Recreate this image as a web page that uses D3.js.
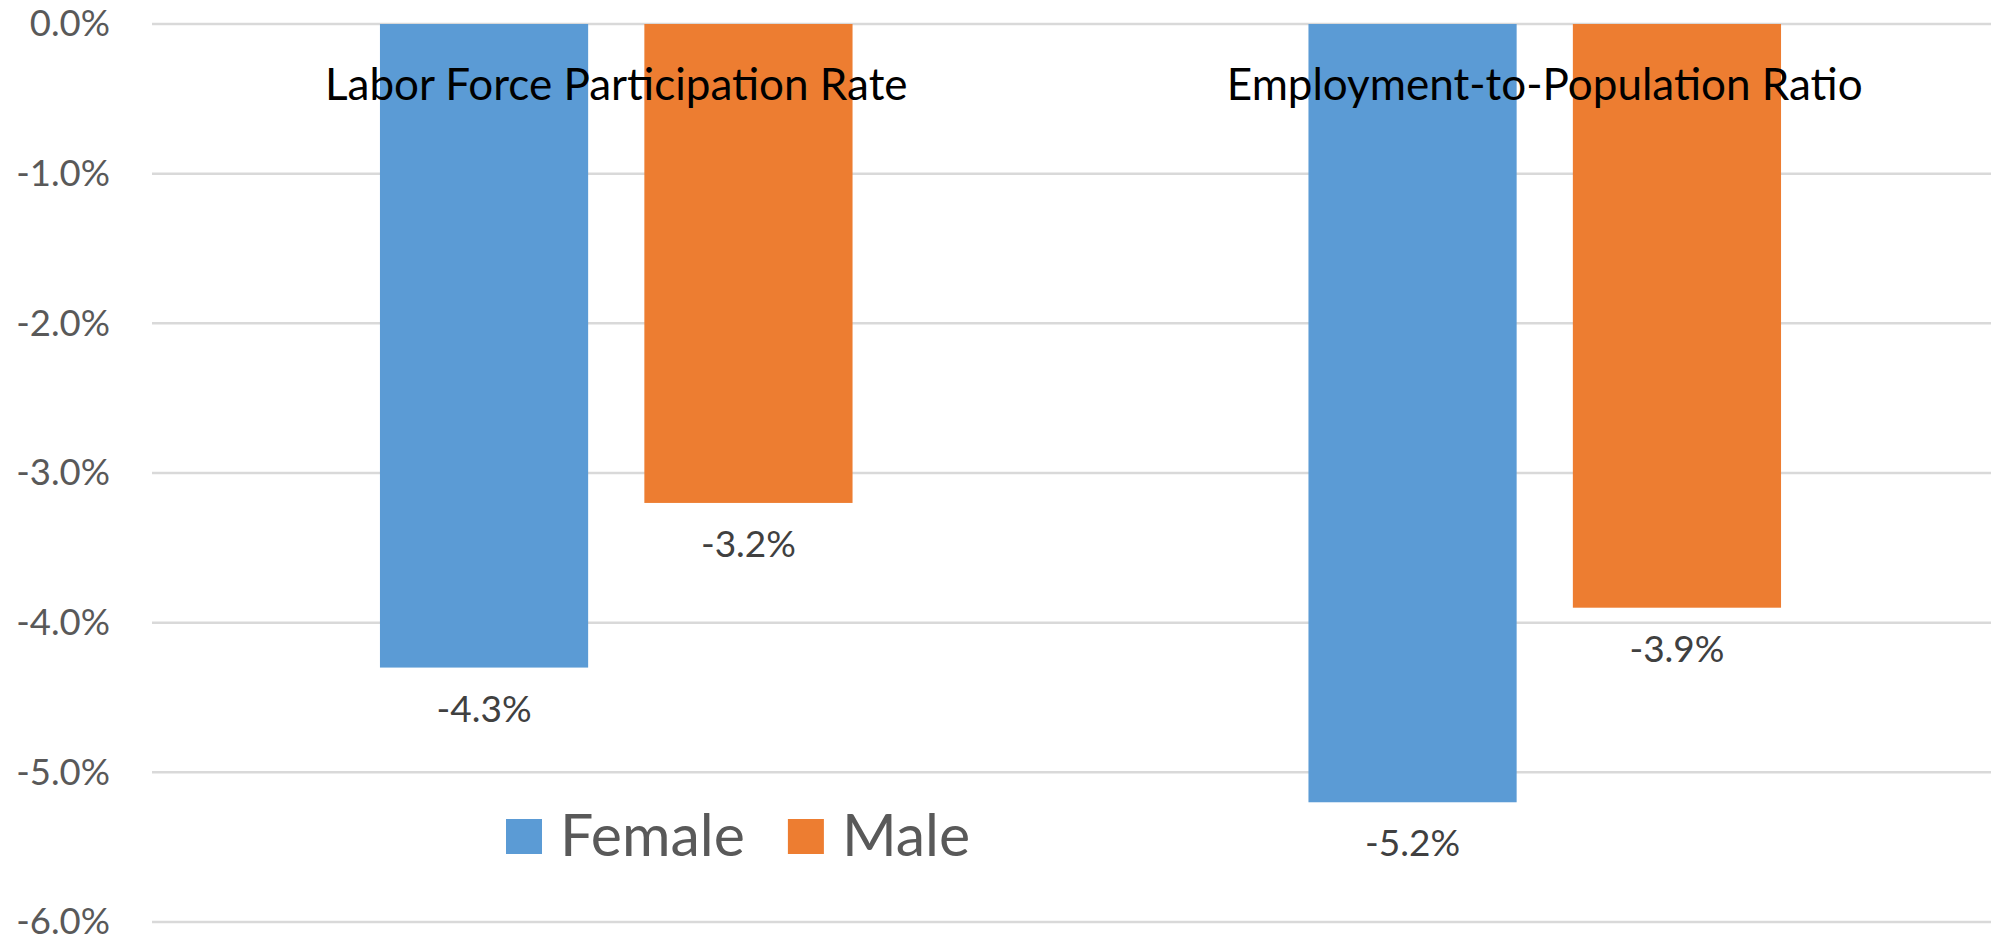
<!DOCTYPE html>
<html>
<head>
<meta charset="utf-8">
<script src="https://cdn.jsdelivr.net/npm/d3@7/dist/d3.min.js"></script>
<style>
  html, body { margin: 0; padding: 0; background: #ffffff; }
  svg { display: block; }
  text { font-family: Lato, "Open Sans", "Noto Sans", sans-serif; }
</style>
</head>
<body>
<svg id="chart" width="1991" height="937"></svg>
<script>
// Change in labor market rates, by sex (percentage points)
const categories = ["Labor Force Participation Rate", "Employment-to-Population Ratio"];
const seriesNames = ["Female", "Male"];
const femaleValues = [-4.3, -5.2];
const maleValues = [-3.2, -3.9];
const yTicks = [0, -1, -2, -3, -4, -5, -6];

const seriesValues = [femaleValues, maleValues];
const colors = ["#5B9BD5", "#ED7D31"];

const svg = d3.select("#chart");

const plotLeft = 152, plotRight = 2009, plotTop = 24, plotBottom = 922;

// Excel-like clustered layout: gap width 219%, overlap -27%
const gapWidth = 2.19, overlap = 0.27;
const stepUnits = 2 + overlap + gapWidth;
const pOuter = gapWidth / stepUnits;

const x0 = d3.scaleBand()
  .domain(categories)
  .range([plotLeft, plotRight])
  .paddingInner(pOuter)
  .paddingOuter(pOuter / 2);

const x1 = d3.scaleBand()
  .domain(seriesNames)
  .range([0, x0.bandwidth()])
  .paddingInner(overlap / (1 + overlap))
  .paddingOuter(0);

const y = d3.scaleLinear().domain([-6, 0]).range([plotBottom, plotTop]);

const fmt = v => {
  const s = Math.abs(v).toFixed(1) + "%";
  return (v < 0 ? "-" : "") + s;
};

// gridlines
svg.append("g")
  .selectAll("line")
  .data(yTicks)
  .join("line")
  .attr("x1", plotLeft)
  .attr("x2", plotRight)
  .attr("y1", d => y(d))
  .attr("y2", d => y(d))
  .attr("stroke", "#d9d9d9")
  .attr("stroke-width", 2.5);

// y axis labels
const yAxis = d3.axisLeft(y)
  .tickValues(yTicks)
  .tickFormat(fmt)
  .tickSize(0)
  .tickPadding(0);

const yG = svg.append("g")
  .attr("transform", `translate(110,0)`)
  .call(yAxis);
yG.select(".domain").remove();
yG.selectAll("text")
  .attr("font-family", "Lato, 'Open Sans', sans-serif")
  .attr("font-size", 36.5)
  .attr("fill", "#595959");

// bars
const rows = categories.map((c, i) => ({
  category: c,
  values: seriesNames.map((s, j) => ({ series: s, value: seriesValues[j][i], color: colors[j] }))
}));

const groups = svg.append("g")
  .selectAll("g")
  .data(rows)
  .join("g")
  .attr("transform", d => `translate(${x0(d.category)},0)`);

groups.selectAll("rect")
  .data(d => d.values)
  .join("rect")
  .attr("x", d => x1(d.series))
  .attr("width", x1.bandwidth())
  .attr("y", d => y(Math.max(0, d.value)))
  .attr("height", d => Math.abs(y(d.value) - y(0)))
  .attr("fill", d => d.color);

// data labels below bar ends
groups.selectAll("text.value")
  .data(d => d.values)
  .join("text")
  .attr("class", "value")
  .attr("x", d => x1(d.series) + x1.bandwidth() / 2)
  .attr("y", d => y(d.value) + 54)
  .attr("text-anchor", "middle")
  .attr("font-size", 37)
  .attr("fill", "#404040")
  .text(d => fmt(d.value));

// category labels along the top
svg.append("g")
  .selectAll("text")
  .data(categories)
  .join("text")
  .attr("x", d => x0(d) + x0.bandwidth() / 2)
  .attr("y", 100)
  .attr("text-anchor", "middle")
  .attr("font-size", 44)
  .attr("fill", "#000000")
  .text(d => d);

// legend
const legend = svg.append("g").attr("transform", "translate(506,819)");
let lx = 0;
seriesNames.forEach((name, i) => {
  const item = legend.append("g").attr("transform", `translate(${lx},0)`);
  item.append("rect")
    .attr("width", 36).attr("height", 35)
    .attr("fill", colors[i]);
  const t = item.append("text")
    .attr("x", 54)
    .attr("y", 37)
    .attr("font-size", 59)
    .attr("fill", "#595959")
    .text(name);
  lx += 54 + t.node().getComputedTextLength() + 43;
});
</script>
</body>
</html>
